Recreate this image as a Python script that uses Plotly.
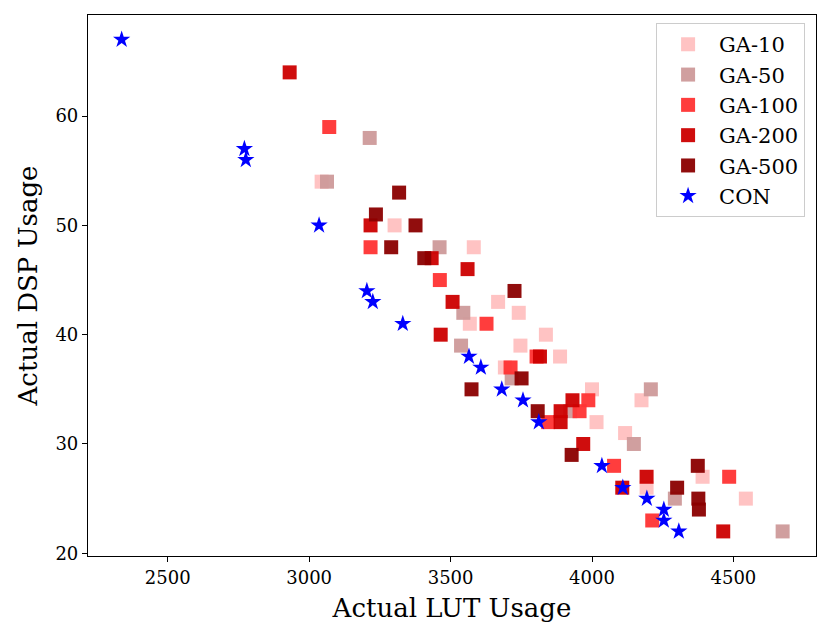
import plotly.graph_objects as go

# LUT / DSP usage per configuration
ga10_lut = [3044, 3302, 3582, 3668, 3741, 3568, 3837, 3747, 3887, 3692, 4000, 4175, 4016, 4117, 4193, 4391, 4544]
ga10_dsp = [54, 50, 48, 43, 42, 41, 40, 39, 38, 37, 35, 34, 32, 31, 26, 27, 25]

ga50_lut = [3063, 3214, 3461, 3545, 3537, 3716, 4208, 3923, 4148, 4293, 4674]
ga50_dsp = [54, 58, 48, 42, 39, 36, 35, 33, 30, 25, 22]

ga100_lut = [3071, 3217, 3462, 3627, 3804, 3712, 3987, 3956, 3845, 4078, 4485, 4213]
ga100_dsp = [59, 48, 45, 41, 38, 37, 34, 33, 32, 28, 27, 23]

ga200_lut = [2931, 3217, 3433, 3560, 3507, 3465, 3816, 3931, 3889, 3889, 3969, 4193, 4107, 4464]
ga200_dsp = [64, 50, 47, 46, 43, 40, 38, 34, 33, 32, 30, 27, 26, 22]

ga500_lut = [3318, 3236, 3376, 3290, 3407, 3726, 3751, 3574, 3808, 3928, 4374, 4301, 4376, 4378]
ga500_dsp = [53, 51, 50, 48, 47, 44, 36, 35, 33, 29, 28, 26, 25, 24]

con_lut = [2337, 2771, 2776, 3035, 3204, 3225, 3331, 3565, 3607, 3681, 3756, 3812, 4035, 4109, 4194, 4254, 4254, 4307]
con_dsp = [67, 57, 56, 50, 44, 43, 41, 38, 37, 35, 34, 32, 28, 26, 25, 24, 23, 22]

series = [
    ("GA-10", ga10_lut, ga10_dsp, "#ffc0c0"),
    ("GA-50", ga50_lut, ga50_dsp, "#cd9a9a"),
    ("GA-100", ga100_lut, ga100_dsp, "#ff3333"),
    ("GA-200", ga200_lut, ga200_dsp, "#cc0000"),
    ("GA-500", ga500_lut, ga500_dsp, "#8b0000"),
]

fig = go.Figure()
for name, xs, ys, col in series:
    fig.add_trace(go.Scatter(
        x=xs, y=ys, mode="markers", name=name,
        marker=dict(symbol="square", size=14, color=col, opacity=0.95,
                    line=dict(width=0)),
    ))

fig.add_trace(go.Scatter(
    x=con_lut, y=con_dsp, mode="markers", name="CON",
    marker=dict(symbol="star", size=13, color="#0000ff", line=dict(width=0)),
))

font = "DejaVu Serif"
axis_style = dict(
    showline=True, linecolor="black", linewidth=1.2, mirror=True,
    ticks="outside", ticklen=5, tickcolor="black",
    showgrid=False, zeroline=False, automargin=False,
    tickfont=dict(family=font, size=18, color="black"),
)
fig.update_xaxes(range=[2218, 4792], tickvals=[2500, 3000, 3500, 4000, 4500],
                 title=dict(text="Actual LUT Usage", font=dict(family=font, size=26, color="black"),
                            standoff=12),
                 **axis_style)
fig.update_yaxes(range=[19.75, 69.25], tickvals=[20, 30, 40, 50, 60],
                 title=dict(text="Actual DSP Usage", font=dict(family=font, size=26, color="black"),
                            standoff=10),
                 **axis_style)

# page body has an 8px margin, so the figure is sized/offset to compensate
fig.update_layout(
    width=822, height=631,
    margin=dict(l=80, r=14, t=7, b=83),
    plot_bgcolor="white", paper_bgcolor="white",
    font=dict(family=font, color="black"),
    legend=dict(x=0.985, y=0.985, xanchor="right", yanchor="top",
                bordercolor="#cccccc", borderwidth=1, bgcolor="rgba(255,255,255,0.8)",
                itemwidth=52,
                font=dict(family=font, size=21, color="black")),
)

fig.write_html("out.html")
